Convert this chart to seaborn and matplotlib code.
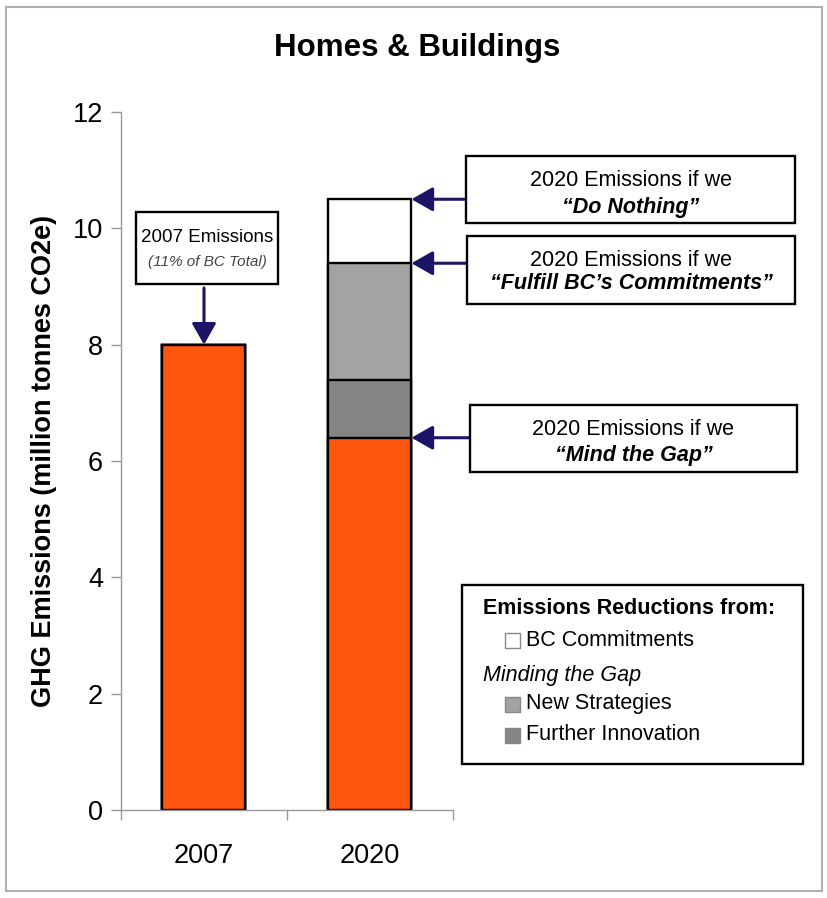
import numpy as np
import pandas as pd
import matplotlib
matplotlib.use("Agg")
import matplotlib.pyplot as plt
import seaborn as sns
from matplotlib.patches import Rectangle

# ---------------- data ----------------
years = ["2007", "2020"]
remaining = [8.0, 6.4]            # orange: emissions remaining
further_innovation = [0.0, 1.0]
new_strategies = [0.0, 2.0]
bc_commitments = [0.0, 1.1]
layer_colors = ["#ff5610", "#858585", "#a3a3a3", "#ffffff"]
yticks = [0, 2, 4, 6, 8, 10, 12]
legend_labels = ["BC Commitments", "New Strategies", "Further Innovation"]
legend_colors = ["#ffffff", "#a3a3a3", "#858585"]

sns.set_style("white")
plt.rcParams["font.family"] = ["Liberation Sans", "DejaVu Sans"]
plt.rcParams["text.color"] = "black"
plt.rcParams["axes.labelcolor"] = "black"
plt.rcParams["xtick.color"] = "black"
plt.rcParams["ytick.color"] = "black"

W, H = 828, 898
fig = plt.figure(figsize=(W / 100, H / 100), dpi=100)


def fx(x):
    return x / W


def fy(y):
    return 1 - y / H


ax = fig.add_axes([fx(121), fy(810), 332 / W, 698 / H])

layers = np.array([remaining, further_innovation, new_strategies, bc_commitments])
cum = np.cumsum(layers, axis=0)
bar_width = 0.5
for i in reversed(range(len(layers))):
    df = pd.DataFrame({"year": years, "value": cum[i]})
    sns.barplot(data=df, x="year", y="value", color=layer_colors[i], saturation=1,
                width=bar_width, edgecolor="black", linewidth=1.7, errorbar=None, ax=ax)

ax.set_xlim(-0.5, 1.5)
ax.set_ylim(0, 12)
ax.set_yticks(yticks)
ax.set_xticks([0, 1])
ax.set_xticklabels(years)
ax.set_xticks([-0.5, 0.5, 1.5], minor=True)
ax.tick_params(axis="y", left=True, length=7, width=1, color="#999999",
               labelcolor="black", labelsize=19.5, pad=6, direction="out")
ax.tick_params(axis="x", which="major", bottom=True, length=0, labelcolor="black",
               labelsize=19.5, pad=24)
ax.tick_params(axis="x", which="minor", bottom=True, length=7, width=1,
               color="#999999", direction="out")
for s in ["top", "right"]:
    ax.spines[s].set_visible(False)
for s in ["left", "bottom"]:
    ax.spines[s].set_color("#999999")
    ax.spines[s].set_linewidth(1.0)
ax.set_xlabel("")
ax.set_ylabel("GHG Emissions (million tonnes CO2e)", fontsize=19.5, fontweight="bold",
              color="black")
ax.yaxis.set_label_coords(-0.193, 0.5)

# title
fig.text(fx(417), fy(48), "Homes & Buildings", ha="center", va="center",
         fontsize=22.5, fontweight="bold", color="black")

navy = "#1c1464"
arrow_kw = dict(arrowstyle="-|>,head_length=0.65,head_width=0.37", color=navy,
                lw=2.2, shrinkA=0, shrinkB=0, mutation_scale=20)


def box(x0, y0, x1, y1):
    fig.add_artist(Rectangle((fx(x0), fy(y1)), (x1 - x0) / W, (y1 - y0) / H,
                             transform=fig.transFigure, facecolor="white",
                             edgecolor="black", lw=1.7, zorder=3))


# 2007 annotation
box(136, 212, 278, 284)
fig.text(fx(207), fy(238), "2007 Emissions", ha="center", va="center", fontsize=13.5,
         color="black", zorder=4)
fig.text(fx(207), fy(262), "(11% of BC Total)", ha="center", va="center",
         fontsize=11, style="italic", color="#444444", zorder=4)
ax.annotate("", xy=(0, cum[0][0]), xycoords="data",
            xytext=(0, fy(288)), textcoords=("data", "figure fraction"),
            arrowprops=arrow_kw, annotation_clip=False)

# 2020 annotations
right_edge = 1 + bar_width / 2
boxes = [
    ((466, 156, 795, 223), "\u201cDo Nothing\u201d", cum[3][1], 180, 207),
    ((467, 236, 795, 304), "\u201cFulfill BC\u2019s Commitments\u201d", cum[2][1], 260, 284),
    ((470, 405, 797, 472), "\u201cMind the Gap\u201d", cum[0][1], 430, 455),
]
for (x0, y0, x1, y1), label, level, ty1, ty2 in boxes:
    box(x0, y0, x1, y1)
    cx = (x0 + x1) / 2
    fig.text(fx(cx), fy(ty1), "2020 Emissions if we", ha="center", va="center",
             fontsize=15.5, color="black", zorder=4)
    fig.text(fx(cx), fy(ty2), label, ha="center", va="center", fontsize=15.5,
             fontweight="bold", style="italic", color="black", zorder=4)
    ax.annotate("", xy=(right_edge, level), xycoords="data",
                xytext=(fx(x0), level), textcoords=("figure fraction", "data"),
                arrowprops=arrow_kw, annotation_clip=False)

# legend (manual)
box(462, 585, 803, 764)
fig.text(fx(483), fy(608), "Emissions Reductions from:", ha="left", va="center",
         fontsize=15.5, fontweight="bold", color="black", zorder=4)
fig.text(fx(483), fy(675), "Minding the Gap", ha="left", va="center",
         fontsize=15.5, style="italic", color="black", zorder=4)
for label, color, yy in zip(legend_labels, legend_colors, [640, 704, 735]):
    fig.add_artist(Rectangle((fx(505), fy(yy + 7.5)), 15 / W, 15 / H,
                             transform=fig.transFigure, facecolor=color,
                             edgecolor="#888888", lw=1, zorder=4))
    fig.text(fx(526), fy(yy), label, ha="left", va="center", fontsize=15.5,
             color="black", zorder=4)

# outer frame
fig.add_artist(Rectangle((fx(6), fy(891)), 816 / W, 884 / H, transform=fig.transFigure,
                         facecolor="none", edgecolor="#b0b0b0", lw=1.5, zorder=5))

fig.savefig("out.png", dpi=100)
